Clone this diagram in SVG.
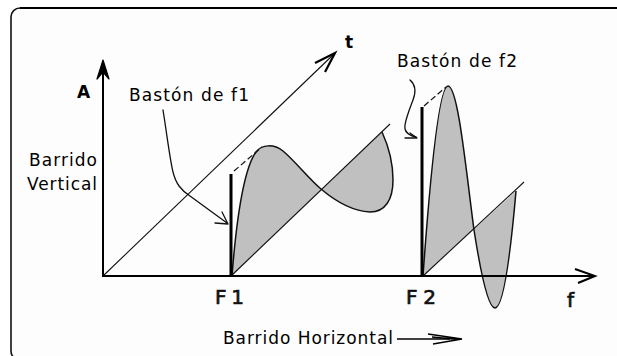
<svg xmlns="http://www.w3.org/2000/svg" width="617" height="356" viewBox="0 0 617 356">
<style>
.lbl{font-family:"DejaVu Sans","Verdana",sans-serif;font-size:17px;fill:#000}
.big{font-family:"DejaVu Sans","Verdana",sans-serif;font-size:20px;fill:#111;stroke:#111;stroke-width:0.7}
.bold{font-weight:bold}
.axis{stroke:#000;stroke-width:2;fill:none}
.thin{stroke:#111;stroke-width:1.1;fill:none}
.fill{fill:#c0c0c0;stroke:none}
.edge{fill:none;stroke:#111;stroke-width:1.5;stroke-linejoin:round}
.dash{stroke:#111;stroke-width:1.2;stroke-dasharray:6 3;fill:none}
.bar{fill:#000}
.lead{stroke:#111;stroke-width:1.3;fill:none;stroke-linecap:round;stroke-linejoin:round}
</style>
<rect width="617" height="356" fill="#fff"/>
<g id="frame">
<rect x="11" y="8" width="700" height="352" rx="9" ry="9" fill="#fdfdfd" stroke="#111" stroke-width="1.6"/>
<line x1="20" y1="8" x2="617" y2="8" stroke="#000" stroke-width="2"/>
</g>
<g id="lobe-f1">
<path class="fill" d="M232,276 C236,225 243,170 256,152 C262,144 274,144 283,151 C296,162 308,178 321,189 C334,200 350,211 370,212 C385,212 393,200 393,180 C393,162 388,145 382,132 L232,276 Z"/>
<path class="edge" d="M232,276 C236,225 243,170 256,152 C262,144 274,144 283,151 C296,162 308,178 321,189 C334,200 350,211 370,212 C385,212 393,200 393,180 C393,162 388,145 382,132"/>
<line class="thin" x1="231" y1="276" x2="390" y2="124"/>
<path class="dash" d="M234,171 L262,147"/>
<rect class="bar" x="229.5" y="174" width="3" height="102"/>
</g>
<g id="lobe-f2">
<path class="fill" d="M423,276 C427,220 437,86 448,86 C458,86 466,170 474,230 C479,262 487,308 495,308 C503,308 510,260 516,191 L423,276 Z"/>
<path class="edge" d="M423,276 C427,220 437,86 448,86 C458,86 466,170 474,230 C479,262 487,308 495,308 C503,308 510,260 516,191"/>
<line class="thin" x1="423" y1="276" x2="524" y2="182"/>
<path class="dash" d="M424,106 L446,87"/>
<rect class="bar" x="420.5" y="107" width="3" height="169"/>
</g>
<g id="connectors">
<line class="axis" x1="103" y1="276" x2="103" y2="64"/>
<path d="M97,79 L103,60 L109,79 L103,72 Z" fill="#000" stroke="#000" stroke-width="1.2" stroke-linejoin="round"/>
<line class="axis" x1="102" y1="276" x2="593" y2="276"/>
<path d="M575,269 L595,276 L578,283" fill="none" stroke="#000" stroke-width="2"/>
<line class="thin" x1="103" y1="276" x2="334" y2="54"/>
<path d="M315,63 L335,53 L325,72" fill="none" stroke="#000" stroke-width="2.2"/>
<path class="lead" d="M163,110 C167,135 170,160 173,172 C176,184 181,190 190,196 L227,223"/>
<path class="lead" d="M215,223 L228,224 L222,212"/>
<path class="lead" d="M410,80 C416,85 416,92 413,100 C410,108 406,118 405,125 C404,131 407,135 416,137"/>
<path class="lead" d="M405,138 L417,138 L410,133"/>
<line x1="397" y1="339" x2="450" y2="339" stroke="#000" stroke-width="1.3"/>
<path d="M428,334 L462,339 L433,344 M432,337 L458,339.5" fill="none" stroke="#000" stroke-width="1.3"/>
</g>
<g id="labels">
<text class="lbl bold" x="77" y="98">A</text>
<text class="lbl bold" x="345" y="48">t</text>
<text class="lbl" x="129" y="101" textLength="120" lengthAdjust="spacing">Bastón de f1</text>
<text class="lbl" x="397" y="67" textLength="120" lengthAdjust="spacing">Bastón de f2</text>
<text class="lbl" x="29" y="166" textLength="68" lengthAdjust="spacing">Barrido</text>
<text class="lbl" x="27" y="190" textLength="70" lengthAdjust="spacing">Vertical</text>
<text class="big" x="215" y="304" textLength="29" lengthAdjust="spacing">F1</text>
<text class="big" x="406" y="304" textLength="30" lengthAdjust="spacing">F2</text>
<text class="big" x="567" y="307">f</text>
<text class="lbl" x="223" y="344" textLength="170" lengthAdjust="spacing">Barrido Horizontal</text>
</g>
</svg>
